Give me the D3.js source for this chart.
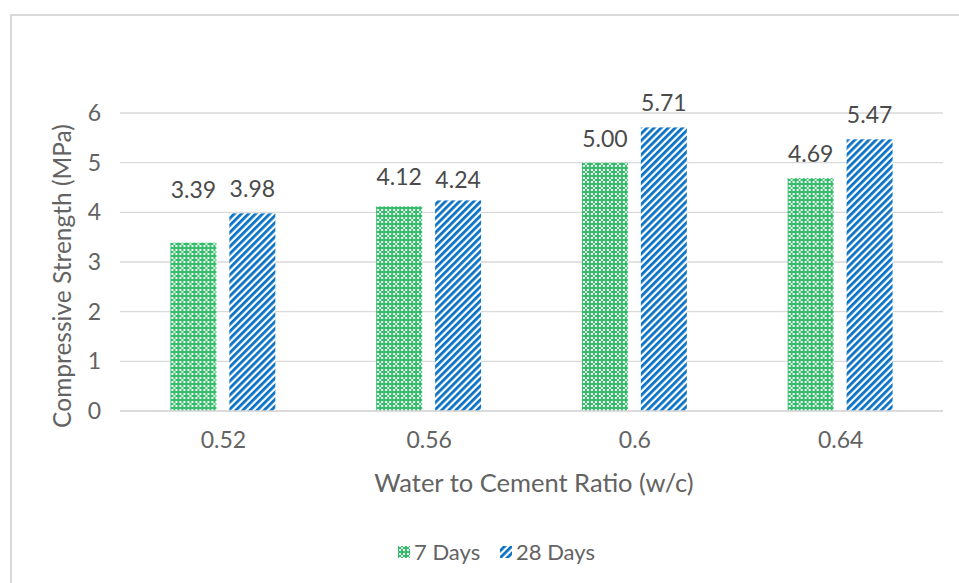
<html>
<head>
<script src="https://d3js.org/d3.v7.min.js"></script>
<style>
  body { margin: 0; background: #fff; }
  text { font-family: Lato, "Open Sans", sans-serif; fill: #636363; }
  .grid line { stroke: #d9d9d9; stroke-width: 1.3px; }
  .label { font-size: 23px; fill: #4a4a4a; }
</style>
</head>
<body onload="init()">
<div id="chart"></div>
<script>
// chart data
const ratios = ["0.52", "0.56", "0.6", "0.64"];
const series = ["7 Days", "28 Days"];
const days7 = [3.39, 4.12, 5.00, 4.69];
const days28 = [3.98, 4.24, 5.71, 5.47];
const yTicks = [0, 1, 2, 3, 4, 5, 6];

function init() {
  var width = 959, height = 583;
  var left = 120, right = 943, top = 113, bottom = 411;

  const svg = d3.select("#chart")
    .append("svg")
    .attr("width", width)
    .attr("height", height);

  const defs = svg.append("defs");

  // green dotted grid fill
  var pg = defs.append("pattern")
    .attr("id", "pat7")
    .attr("patternUnits", "userSpaceOnUse")
    .attr("width", 8).attr("height", 8);
  pg.append("rect").attr("width", 8).attr("height", 8).attr("fill", "#35bd6c");
  [[1, 1], [5, 1], [1, 5], [5, 5]].forEach(p => {
    pg.append("rect").attr("x", p[0]).attr("y", p[1])
      .attr("width", 2).attr("height", 2).attr("fill", "#ffffff");
  });
  pg.append("rect").attr("x", 3).attr("y", 3).attr("width", 2).attr("height", 2).attr("fill", "#d4f2df");

  // blue upward diagonal stripes
  var pb = defs.append("pattern")
    .attr("id", "pat28")
    .attr("patternUnits", "userSpaceOnUse")
    .attr("width", 5).attr("height", 5)
    .attr("patternTransform", "rotate(45)");
  pb.append("rect").attr("width", 5).attr("height", 5).attr("fill", "#ffffff");
  pb.append("rect").attr("width", 2.8).attr("height", 5).attr("fill", "#0a72c6");

  const fills = { "7 Days": "url(#pat7)", "28 Days": "url(#pat28)" };

  // outer chart frame
  svg.append("rect")
    .attr("x", 11).attr("y", 15)
    .attr("width", 960).attr("height", 600)
    .attr("fill", "none")
    .attr("stroke", "#d9d9d9")
    .attr("stroke-width", 2);

  var x0 = d3.scaleBand()
    .domain(ratios)
    .range([left, right])
    .paddingInner(0.49)
    .paddingOuter(0.245);

  var x1 = d3.scaleBand()
    .domain(series)
    .range([0, x0.bandwidth()])
    .paddingInner(0.22);

  var y = d3.scaleLinear()
    .domain([0, 6])
    .range([bottom, top]);

  // gridlines
  svg.append("g")
    .attr("class", "grid")
    .selectAll("line")
    .data(yTicks)
    .enter()
    .append("line")
    .attr("x1", left).attr("x2", right)
    .attr("y1", d => y(d)).attr("y2", d => y(d));

  // y tick labels
  var yaxis = d3.axisLeft(y).tickValues(yTicks).tickFormat(d3.format("d")).tickSize(0).tickPadding(19);
  svg.append("g")
    .attr("transform", "translate(" + left + ",0)")
    .call(yaxis)
    .call(g => g.select(".domain").remove())
    .selectAll("text")
    .style("font-size", "23px")
    .style("font-family", "Lato, sans-serif")
    .attr("fill", "#636363");

  // x tick labels
  var xaxis = d3.axisBottom(d3.scalePoint().domain(ratios).range([left, right]).padding(0.5))
    .tickSize(0).tickPadding(21);
  svg.append("g")
    .attr("transform", "translate(0," + bottom + ")")
    .call(xaxis)
    .call(g => g.select(".domain").remove())
    .selectAll("text")
    .style("font-size", "23px")
    .style("font-family", "Lato, sans-serif")
    .attr("fill", "#636363");

  const rows = ratios.map((r, i) => ({ ratio: r, vals: [
    { key: "7 Days", v: days7[i] },
    { key: "28 Days", v: days28[i] }
  ] }));

  const groups = svg.selectAll(".grp")
    .data(rows)
    .enter()
    .append("g")
    .attr("class", "grp")
    .attr("transform", d => "translate(" + x0(d.ratio) + ",0)");

  groups.selectAll("rect")
    .data(d => d.vals)
    .enter()
    .append("rect")
    .attr("x", d => x1(d.key))
    .attr("width", x1.bandwidth())
    .attr("y", d => y(d.v))
    .attr("height", d => y(0) - y(d.v))
    .attr("fill", d => fills[d.key]);

  // value labels, a few were moved by hand in the original
  var lift = { "0.52|7 Days": 29, "0.56|7 Days": 5, "0.56|28 Days": -4 };
  groups.selectAll(".label")
    .data(d => d.vals.map(v => Object.assign({ ratio: d.ratio }, v)))
    .enter()
    .append("text")
    .attr("class", "label")
    .attr("text-anchor", "middle")
    .attr("x", d => x1(d.key) + x1.bandwidth() / 2)
    .attr("y", d => y(d.v) - 16 - (lift[d.ratio + "|" + d.key] || 0))
    .text(d => d.v.toFixed(2));

  // axis line on top of bars
  svg.append("line")
    .attr("x1", left).attr("x2", right)
    .attr("y1", bottom).attr("y2", bottom)
    .attr("stroke", "#d9d9d9")
    .attr("stroke-width", 1.5);

  svg.append("text") // x title
    .attr("text-anchor", "middle")
    .attr("x", 534)
    .attr("y", 492)
    .style("font-size", "25.5px")
    .text("Water to Cement Ratio (w/c)");

  svg.append("text") // y title
    .attr("text-anchor", "middle")
    .attr("transform", "translate(71,276) rotate(-90)")
    .style("font-size", "24.5px")
    .text("Compressive Strength (MPa)");

  // legend
  var legend = svg.append("g").attr("transform", "translate(398,552)");
  var lx = [0, 102];
  series.forEach((s, i) => {
    legend.append("rect")
      .attr("x", lx[i]).attr("y", -6)
      .attr("width", 12).attr("height", 12)
      .attr("fill", fills[s]);
    legend.append("text")
      .attr("x", lx[i] + 16).attr("y", 8)
      .style("font-size", "22px")
      .text(s);
  });
}
</script>
</body>
</html>
